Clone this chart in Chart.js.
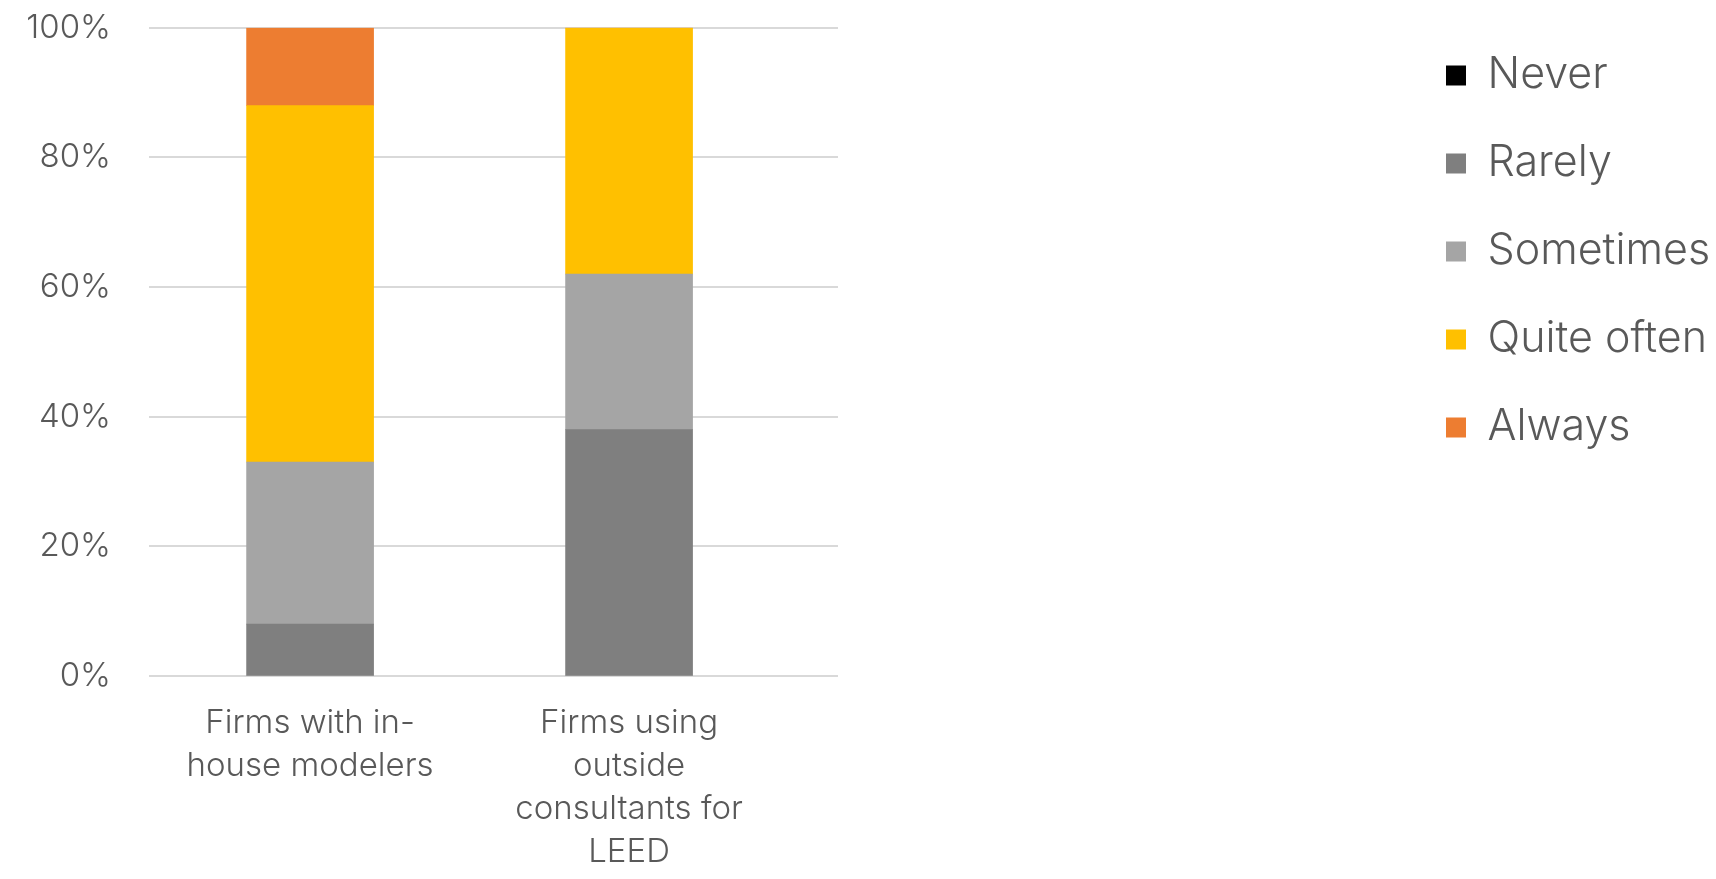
<!DOCTYPE html>
<html>
<head>
<meta charset="utf-8">
<script src="https://cdn.jsdelivr.net/npm/chart.js@4/dist/chart.umd.min.js"></script>
<style>
    html, body { margin: 0; padding: 0; background: #ffffff; }
    #wrap { width: 1716px; height: 879px; position: relative; }
</style>
</head>
<body>
<div id="wrap"><canvas id="freqChart"></canvas></div>
<script>
// categories (wrapped the way the original labels wrap)
const categories = [
    ['Firms with in-', 'house modelers'],
    ['Firms using', 'outside', 'consultants for', 'LEED']
];
const seriesNames = ['Never', 'Rarely', 'Sometimes', 'Quite often', 'Always'];
const never      = [0, 0];
const rarely     = [8, 38];
const sometimes  = [25, 24];
const quiteOften = [55, 38];
const always     = [12, 0];
const yTicks = [0, 20, 40, 60, 80, 100];

const colors = ['#000000', '#7f7f7f', '#a5a5a5', '#ffc000', '#ed7d31'];
const textColor = '#595959';
const fontFamily = 'Inter, "Liberation Sans", Arial, sans-serif';

const seriesValues = [never, rarely, sometimes, quiteOften, always];

document.addEventListener('DOMContentLoaded', function() {

    const ctx = document.getElementById('freqChart');

    // keep the legend a fixed width so it sits where the original has it
    const legendWidth = 315;
    const fixedLegend = {
        id: 'fixedLegend',
        beforeInit: function(chart) {
            const fit = chart.legend.fit;
            chart.legend.fit = function() {
                fit.call(this);
                this.width = legendWidth;
            };
        }
    };

    new Chart(ctx, {
        type: 'bar',
        data: {
            datasets: seriesNames.map(function(name, s) {
                return {
                    label: name,
                    data: seriesValues[s].map(function(v, i) { return { x: i, y: v }; }),
                    backgroundColor: colors[s],
                    borderWidth: 0,
                    barThickness: 127
                };
            })
        },
        options: {
            responsive: true,
            maintainAspectRatio: false,
            animation: false,
            layout: {
                padding: { top: 9, right: 0, bottom: 0, left: 0 }
            },
            plugins: {
                legend: {
                    position: 'right',
                    align: 'start',
                    labels: {
                        boxWidth: 20,
                        boxHeight: 20,
                        padding: 45,
                        color: textColor,
                        font: { family: fontFamily, size: 43, weight: '300' }
                    }
                },
                tooltip: { enabled: false }
            },
            scales: {
                x: {
                    type: 'linear',
                    stacked: true,
                    offset: false,
                    min: -0.505,
                    max: 1.655,
                    afterBuildTicks: function(scale) {
                        scale.ticks = categories.map(function(c, i) { return { value: i }; });
                    },
                    afterFit: function(scale) { scale.height = 203; },
                    grid: { display: false },
                    border: { display: false },
                    ticks: {
                        autoSkip: false,
                        maxRotation: 0,
                        padding: 18,
                        color: textColor,
                        font: { family: fontFamily, size: 33, weight: '300', lineHeight: 1.3 },
                        callback: function(value) {
                            return categories[value];
                        }
                    }
                },
                y: {
                    stacked: true,
                    min: 0,
                    max: 100,
                    afterFit: function(scale) { scale.width = 149; },
                    afterBuildTicks: function(scale) {
                        scale.ticks = yTicks.map(function(v) { return { value: v }; });
                    },
                    grid: { color: '#d9d9d9', lineWidth: 2, drawTicks: true, tickLength: 30, tickColor: 'rgba(0,0,0,0)' },
                    border: { display: false },
                    ticks: {
                        padding: 8,
                        color: textColor,
                        font: { family: fontFamily, size: 33, weight: '300' },
                        callback: function(value) { return value + '%'; }
                    }
                },
                // empty right-hand axis, only used to leave the gap before the legend
                gap: {
                    position: 'right',
                    display: true,
                    grid: { display: false },
                    border: { display: false },
                    ticks: { display: false },
                    afterFit: function(scale) {
                        scale.width = 1716 - legendWidth - 838;
                    }
                }
            }
        },
        plugins: [fixedLegend]
    });
});
</script>
</body>
</html>
